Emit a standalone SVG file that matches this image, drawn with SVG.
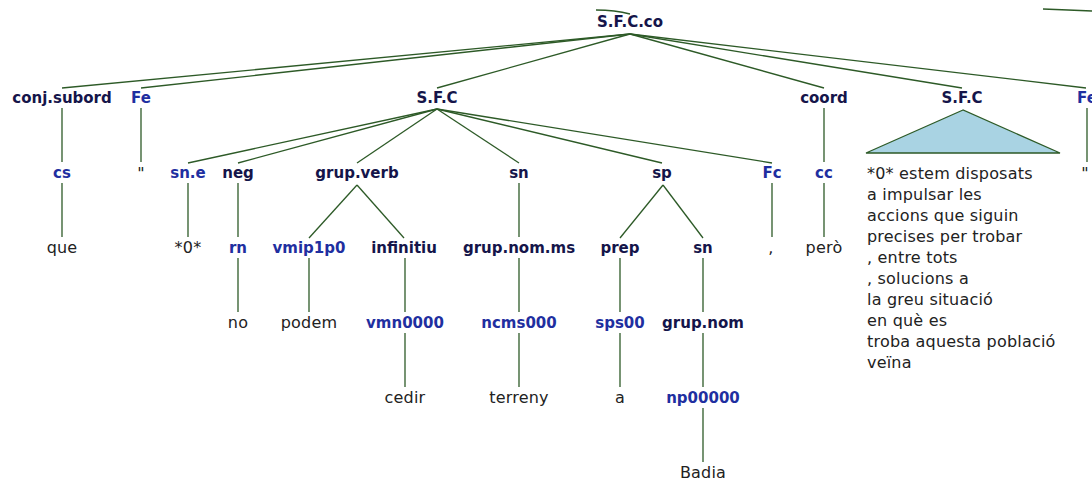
<svg xmlns="http://www.w3.org/2000/svg" width="1092" height="484" viewBox="0 0 1092 484">
<style>
.l{font-family:"DejaVu Sans",sans-serif;font-weight:bold;font-size:15px;fill:#15154a;text-anchor:middle}
.t{font-family:"DejaVu Sans",sans-serif;font-weight:bold;font-size:15px;fill:#1f2fa0;text-anchor:middle}
.w{font-family:"DejaVu Sans",sans-serif;font-size:16px;fill:#222;text-anchor:middle;letter-spacing:0.2px}
.b{font-family:"DejaVu Sans",sans-serif;font-size:16px;fill:#222;letter-spacing:0.2px}
#connectors line,#connectors path{stroke:#2d5a27;stroke-width:1.3;fill:none}
</style>
<rect width="1092" height="484" fill="#fff"/>
<g id="connectors">
<path d="M596,10 Q615,10 630,14"/>
<path d="M1043,9 L1068,10 L1092,11"/>
<line x1="630" y1="34" x2="62" y2="88"/>
<line x1="630" y1="34" x2="141" y2="88"/>
<line x1="630" y1="34" x2="437" y2="88"/>
<line x1="630" y1="34" x2="824" y2="88"/>
<line x1="630" y1="34" x2="962" y2="88"/>
<line x1="630" y1="34" x2="1086" y2="88"/>
<line x1="62" y1="108" x2="62" y2="162"/>
<line x1="141" y1="108" x2="141" y2="162"/>
<line x1="824" y1="108" x2="824" y2="162"/>
<line x1="1087" y1="108" x2="1087" y2="162"/>
<line x1="437" y1="109" x2="188" y2="163"/>
<line x1="437" y1="109" x2="238" y2="163"/>
<line x1="437" y1="109" x2="357" y2="163"/>
<line x1="437" y1="109" x2="519" y2="163"/>
<line x1="437" y1="109" x2="662" y2="163"/>
<line x1="437" y1="109" x2="772" y2="163"/>
<line x1="62" y1="183" x2="62" y2="237"/>
<line x1="188" y1="183" x2="188" y2="237"/>
<line x1="238" y1="183" x2="238" y2="237"/>
<line x1="357" y1="185" x2="309" y2="238"/>
<line x1="357" y1="185" x2="404" y2="238"/>
<line x1="519" y1="183" x2="519" y2="237"/>
<line x1="663" y1="185" x2="620" y2="238"/>
<line x1="663" y1="185" x2="703" y2="238"/>
<line x1="772" y1="183" x2="772" y2="237"/>
<line x1="824" y1="183" x2="824" y2="237"/>
<line x1="238" y1="258" x2="238" y2="312"/>
<line x1="309" y1="258" x2="309" y2="312"/>
<line x1="405" y1="258" x2="405" y2="312"/>
<line x1="519" y1="258" x2="519" y2="312"/>
<line x1="620" y1="258" x2="620" y2="312"/>
<line x1="703" y1="258" x2="703" y2="312"/>
<line x1="405" y1="333" x2="405" y2="387"/>
<line x1="519" y1="333" x2="519" y2="387"/>
<line x1="620" y1="333" x2="620" y2="387"/>
<line x1="703" y1="333" x2="703" y2="387"/>
<line x1="703" y1="408" x2="703" y2="462"/>
</g>
<g id="n-root"><text class="l" x="630" y="27">S.F.C.co</text></g>
<g id="n-conjsubord"><text class="l" x="62" y="103">conj.subord</text></g>
<g id="n-fe1"><text class="t" x="141" y="103">Fe</text></g>
<g id="n-sfc1"><text class="l" x="437" y="103">S.F.C</text></g>
<g id="n-coord"><text class="l" x="824" y="103">coord</text></g>
<g id="n-sfc2"><text class="l" x="962" y="103">S.F.C</text>
<polygon points="963,110 866,153 1060,153" fill="#a9d3e3" stroke="#2d5a27" stroke-width="1.3"/></g>
<g id="n-fe2"><text class="t" x="1087" y="103">Fe</text></g>
<g id="n-cs"><text class="t" x="62" y="178">cs</text></g>
<g id="n-q1"><text class="w" x="141" y="179">"</text></g>
<g id="n-sne"><text class="t" x="188" y="178">sn.e</text></g>
<g id="n-neg"><text class="l" x="238" y="178">neg</text></g>
<g id="n-grupverb"><text class="l" x="357" y="178">grup.verb</text></g>
<g id="n-sn1"><text class="l" x="519" y="178">sn</text></g>
<g id="n-sp"><text class="l" x="662" y="178">sp</text></g>
<g id="n-fc"><text class="t" x="772" y="178">Fc</text></g>
<g id="n-cc"><text class="t" x="824" y="178">cc</text></g>
<g id="n-q2"><text class="w" x="1085" y="179">"</text></g>
<g id="n-block"><text class="b" x="867">
<tspan x="867" y="179">*0* estem disposats</tspan>
<tspan x="867" y="200">a impulsar les</tspan>
<tspan x="867" y="221">accions que siguin</tspan>
<tspan x="867" y="242">precises per trobar</tspan>
<tspan x="867" y="263">, entre tots</tspan>
<tspan x="867" y="284">, solucions a</tspan>
<tspan x="867" y="305">la greu situació</tspan>
<tspan x="867" y="326">en què es</tspan>
<tspan x="867" y="347">troba aquesta població</tspan>
<tspan x="867" y="368">veïna</tspan>
</text></g>
<g id="n-que"><text class="w" x="62" y="253">que</text></g>
<g id="n-zero"><text class="w" x="188" y="253">*0*</text></g>
<g id="n-rn"><text class="t" x="238" y="253">rn</text></g>
<g id="n-vmip"><text class="t" x="309" y="253">vmip1p0</text></g>
<g id="n-infinitiu"><text class="l" x="404" y="253">infinitiu</text></g>
<g id="n-grupnomms"><text class="l" x="519" y="253">grup.nom.ms</text></g>
<g id="n-prep"><text class="l" x="620" y="253">prep</text></g>
<g id="n-sn2"><text class="l" x="703" y="253">sn</text></g>
<g id="n-comma"><text class="w" x="771" y="253">,</text></g>
<g id="n-pero"><text class="w" x="824" y="253">però</text></g>
<g id="n-no"><text class="w" x="238" y="328">no</text></g>
<g id="n-podem"><text class="w" x="309" y="328">podem</text></g>
<g id="n-vmn"><text class="t" x="405" y="328">vmn0000</text></g>
<g id="n-ncms"><text class="t" x="519" y="328">ncms000</text></g>
<g id="n-sps"><text class="t" x="620" y="328">sps00</text></g>
<g id="n-grupnom"><text class="l" x="703" y="328">grup.nom</text></g>
<g id="n-cedir"><text class="w" x="405" y="403">cedir</text></g>
<g id="n-terreny"><text class="w" x="519" y="403">terreny</text></g>
<g id="n-a"><text class="w" x="620" y="403">a</text></g>
<g id="n-np"><text class="t" x="703" y="403">np00000</text></g>
<g id="n-badia"><text class="w" x="703" y="478">Badia</text></g>
</svg>
